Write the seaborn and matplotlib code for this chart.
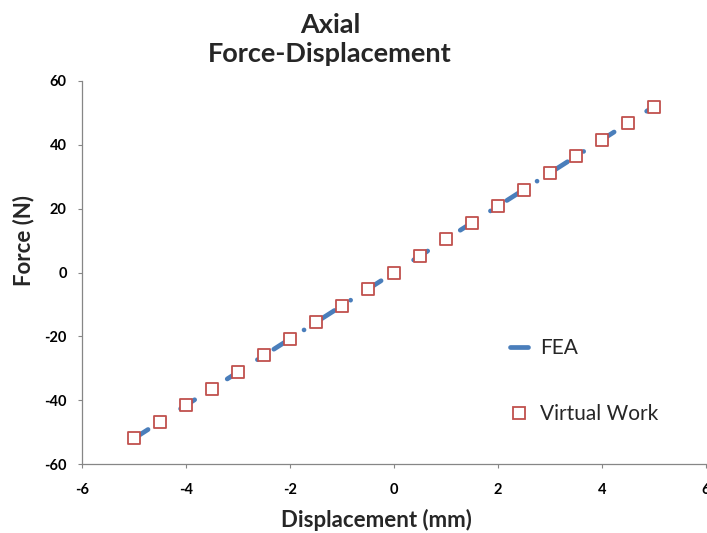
import matplotlib
matplotlib.use("Agg")
import matplotlib.pyplot as plt
import seaborn as sns
import pandas as pd
from matplotlib.lines import Line2D

# Displacement (mm) and force (N) for both methods
fea_disp = [-5.0, -4.5, -4.0, -3.5, -3.0, -2.5, -2.0, -1.5, -1.0, -0.5, 0.0,
            0.5, 1.0, 1.5, 2.0, 2.5, 3.0, 3.5, 4.0, 4.5, 5.0]
fea_force = [-52.0, -46.8, -41.6, -36.4, -31.2, -26.0, -20.8, -15.6, -10.4, -5.2, 0.0,
             5.2, 10.4, 15.6, 20.8, 26.0, 31.2, 36.4, 41.6, 46.8, 52.0]
vw_disp = [-5.0, -4.5, -4.0, -3.5, -3.0, -2.5, -2.0, -1.5, -1.0, -0.5, 0.0,
           0.5, 1.0, 1.5, 2.0, 2.5, 3.0, 3.5, 4.0, 4.5, 5.0]
vw_force = [-52.0, -46.8, -41.6, -36.4, -31.2, -26.0, -20.8, -15.6, -10.4, -5.2, 0.0,
            5.2, 10.4, 15.6, 20.8, 26.0, 31.2, 36.4, 41.6, 46.8, 52.0]
x_ticks = [-6, -4, -2, 0, 2, 4, 6]
y_ticks = [-60, -40, -20, 0, 20, 40, 60]

BLUE = "#4A7EBB"
RED = "#C0504D"
AXIS_GRAY = "#868686"

sns.set_theme(style="white")
plt.rcParams["font.family"] = ["Lato", "DejaVu Sans"]
plt.rcParams["lines.scale_dashes"] = False

fea = pd.DataFrame({"Displacement": fea_disp, "Force": fea_force})
vw = pd.DataFrame({"Displacement": vw_disp, "Force": vw_force})

W, H = 707, 533
fig = plt.figure(figsize=(W / 100, H / 100), dpi=100)
ax = fig.add_axes([82 / W, (H - 464) / H, 624 / W, 383 / H])

# FEA curve: thick dash-dot line with rounded ends
sns.lineplot(data=fea, x="Displacement", y="Force", ax=ax, color=BLUE,
             linewidth=3.4, sort=False)
line = ax.lines[-1]
line.set_linestyle((0, (12.0, 13.8, 0.01, 14.0)))
line.set_dash_capstyle("round")

# Virtual work results: hollow squares
sns.scatterplot(data=vw, x="Displacement", y="Force", ax=ax, marker="s",
                s=78, facecolor="white", edgecolor=RED, linewidth=1.3, zorder=3)

ax.set_xlim(-6, 6)
ax.set_ylim(-60, 60)
ax.set_xticks(x_ticks)
ax.set_yticks(y_ticks)
ax.set_xticklabels([str(t) for t in x_ticks], fontsize=10.5, fontweight="bold")
ax.set_yticklabels([str(t) for t in y_ticks], fontsize=10.5, fontweight="bold")
ax.tick_params(axis="both", which="major", direction="out", length=3,
               width=0.8, color=AXIS_GRAY, labelcolor="black")
ax.tick_params(axis="x", pad=11)
ax.tick_params(axis="y", pad=8)
ax.xaxis.set_ticks_position("bottom")
ax.yaxis.set_ticks_position("left")

for side in ("top", "right"):
    ax.spines[side].set_visible(False)
for side in ("left", "bottom"):
    ax.spines[side].set_color(AXIS_GRAY)
    ax.spines[side].set_linewidth(0.9)

ax.set_xlabel("Displacement (mm)", fontsize=16, fontweight="bold", va="center")
ax.set_ylabel("Force (N)", fontsize=16, fontweight="bold", va="center")
ax.xaxis.set_label_coords((376 - 82) / 624, (464 - 520) / 383)
ax.yaxis.set_label_coords((24 - 82) / 624, (464 - 240) / 383)

fig.text(330 / W, 1 - 33 / H, "Axial", ha="center", va="baseline",
         fontsize=19.5, fontweight="bold")
fig.text(330 / W, 1 - 62 / H, "Force-Displacement", ha="center", va="baseline",
         fontsize=19.5, fontweight="bold")

handles = [
    Line2D([], [], color=BLUE, linewidth=3.4, solid_capstyle="round"),
    Line2D([], [], color=RED, marker="s", markersize=8.5, markerfacecolor="white",
           markeredgewidth=1.3, linestyle="none"),
]
ax.legend(handles, ["FEA", "Virtual Work"], frameon=False, fontsize=15,
          loc="upper left", bbox_to_anchor=((510 - 82) / 624, (464 - 338) / 383),
          handlelength=0.87, handletextpad=0.58, labelspacing=2.2,
          borderaxespad=0, borderpad=0)

fig.savefig("out.png", dpi=100)
